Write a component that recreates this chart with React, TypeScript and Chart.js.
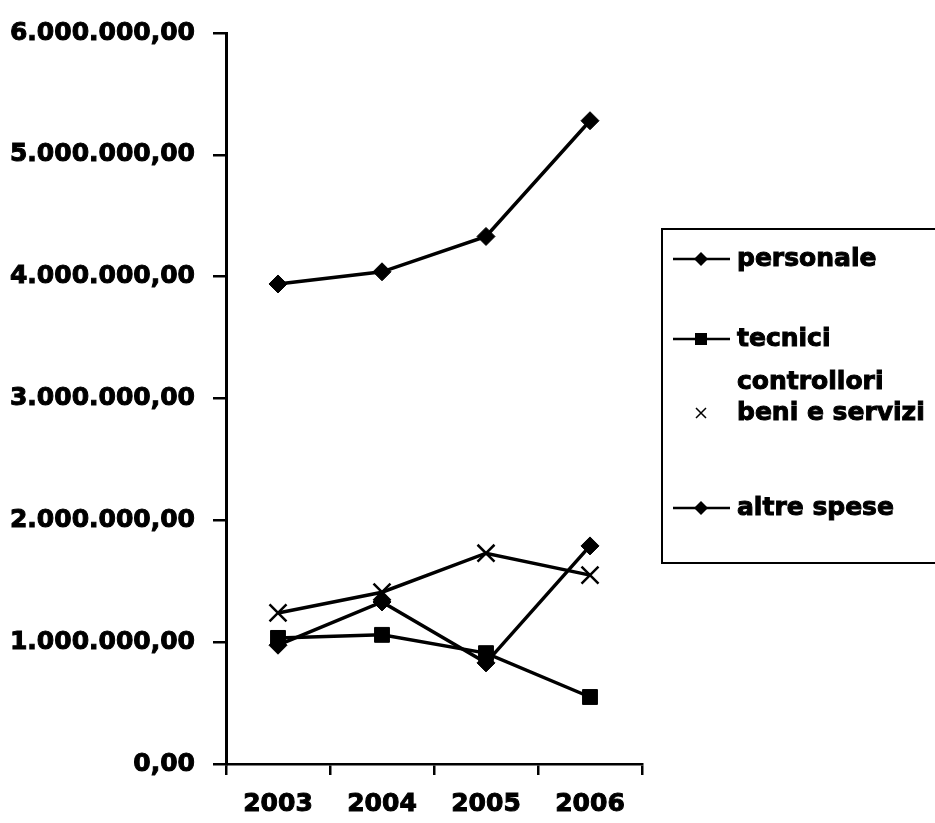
import React, { useEffect, useRef } from "react";
import { Chart, registerables } from "chart.js";

Chart.register(...registerables);

const years = ["2003", "2004", "2005", "2006"];
const personale = [3940000, 4040000, 4330000, 5280000];
const tecniciControllori = [1035000, 1060000, 910000, 550000];
const beniEServizi = [1240000, 1410000, 1730000, 1550000];
const altreSpese = [975000, 1330000, 830000, 1790000];

const legendLabels: string[][] = [["personale"], ["tecnici", "controllori"], ["beni e servizi"], ["altre spese"]];
const legendMarkers = ["rectRot", "rect", "crossRot", "rectRot"];
const legendLines = [true, true, false, true];

const FONT = "'DejaVu Sans', sans-serif";

function formatIt(v: number): string {
  const intPart = Math.round(v).toString().replace(/\B(?=(\d{3})+(?!\d))/g, ".");
  return intPart + ",00";
}

const legendPlugin = {
  id: "customLegend",
  afterDraw(chart: any) {
    const ctx = chart.ctx as CanvasRenderingContext2D;
    ctx.save();
    ctx.strokeStyle = "#000";
    ctx.lineWidth = 2;
    ctx.strokeRect(662, 229, 300, 334);
    ctx.font = `bold 25px ${FONT}`;
    ctx.fillStyle = "#000";
    ctx.textBaseline = "middle";
    ctx.textAlign = "left";
    const rows = [259, 339, 413, 508];
    rows.forEach((y, i) => {
      if (legendLines[i]) {
        ctx.beginPath();
        ctx.lineWidth = 2.5;
        ctx.moveTo(673, y);
        ctx.lineTo(730, y);
        ctx.stroke();
      }
      const m = legendMarkers[i];
      const cx = 701;
      ctx.beginPath();
      if (m === "rectRot") {
        ctx.moveTo(cx, y - 7);
        ctx.lineTo(cx + 7, y);
        ctx.lineTo(cx, y + 7);
        ctx.lineTo(cx - 7, y);
        ctx.closePath();
        ctx.fill();
      } else if (m === "rect") {
        ctx.rect(cx - 6, y - 6, 12, 12);
        ctx.fill();
      } else {
        ctx.lineWidth = 1.5;
        ctx.moveTo(cx - 5, y - 5);
        ctx.lineTo(cx + 5, y + 5);
        ctx.moveTo(cx + 5, y - 5);
        ctx.lineTo(cx - 5, y + 5);
        ctx.stroke();
      }
      legendLabels[i].forEach((t, j) => {
        ctx.lineWidth = 1;
        ctx.strokeText(t, 737, y + j * 43);
        ctx.fillText(t, 737, y + j * 43);
      });
    });
    ctx.restore();
  },
};

export default function App() {
  const ref = useRef<HTMLCanvasElement>(null);
  useEffect(() => {
    if (!ref.current) return;
    const mk = (label: string, data: number[], style: string, radius: number, bw: number) => ({
      label,
      data,
      borderColor: "#000",
      backgroundColor: "#000",
      borderWidth: 3.5,
      pointStyle: style,
      pointRadius: radius,
      pointBorderWidth: bw,
      pointBackgroundColor: "#000",
      pointBorderColor: "#000",
      tension: 0,
    });
    const tickFont = { family: FONT, size: 25, weight: "bold" };
    const chart = new Chart(ref.current, {
      type: "line",
      data: {
        labels: years,
        datasets: [
          mk("personale", personale, "rectRot", 9, 1),
          mk("tecnici controllori", tecniciControllori, "rect", 10.5, 1),
          mk("beni e servizi", beniEServizi, "crossRot", 12, 2.5),
          mk("altre spese", altreSpese, "rectRot", 9, 1),
        ] as any,
      },
      options: {
        animation: false,
        responsive: false,
        layout: { padding: { top: 31, right: 293, left: 0, bottom: 0 } },
        plugins: { legend: { display: false }, tooltip: { enabled: false } },
        scales: {
          x: {
            type: "category",
            offset: true,
            grid: { offset: true, drawOnChartArea: false, drawTicks: true, tickLength: 11, color: "#000", lineWidth: 2.5 },
            border: { display: true, color: "#000", width: 2.5 },
            ticks: {
              color: "#000",
              font: tickFont,
              padding: 14,
              maxRotation: 0,
              textStrokeColor: "#000",
              textStrokeWidth: 1,
            },
            afterFit: (s: any) => {
              s.height = 59;
            },
          },
          y: {
            min: 0,
            max: 6000000,
            grid: { drawOnChartArea: false, drawTicks: true, tickLength: 13, color: "#000", lineWidth: 2.5 },
            border: { display: true, color: "#000", width: 3 },
            ticks: {
              stepSize: 1000000,
              color: "#000",
              font: tickFont,
              padding: 18,
              textStrokeColor: "#000",
              textStrokeWidth: 1,
              callback: (v: any) => formatIt(Number(v)),
            },
            afterFit: (s: any) => {
              s.width = 226;
            },
          },
        },
      } as any,
      plugins: [legendPlugin],
    });
    return () => chart.destroy();
  }, []);
  return (
    <div style={{ position: "absolute", left: 0, top: 0, width: 935, height: 823, background: "#fff" }}>
      <canvas ref={ref} width={935} height={823} style={{ display: "block" }} />
    </div>
  );
}
